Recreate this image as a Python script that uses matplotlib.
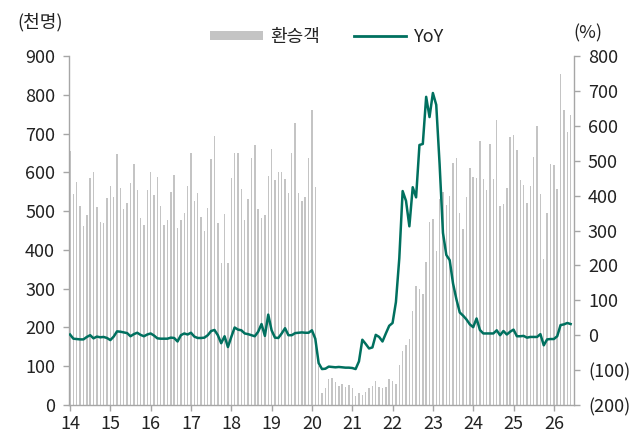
import matplotlib
matplotlib.use("Agg")
import matplotlib.pyplot as plt
from matplotlib.patches import Patch
from matplotlib.lines import Line2D
import numpy as np

plt.rcParams['font.family'] = ['Noto Sans CJK KR', 'DejaVu Sans']

# Monthly transfer passengers (thousand persons), Jan 2014 - Jun 2026
pax_2014 = [655, 543, 574, 513, 462, 490, 585, 601, 511, 472, 469, 533]
pax_2015 = [565, 536, 646, 559, 506, 520, 572, 621, 554, 483, 464, 554]
pax_2016 = [602, 542, 588, 514, 464, 477, 549, 593, 457, 477, 494, 565]
pax_2017 = [650, 527, 546, 486, 449, 509, 634, 693, 469, 366, 493, 366]
pax_2018 = [585, 651, 651, 558, 477, 531, 638, 670, 506, 481, 491, 590]
pax_2019 = [660, 581, 602, 601, 582, 546, 649, 726, 546, 526, 537, 638]
pax_2020 = [760, 563, 100, 32, 43, 68, 69, 59, 49, 53, 47, 51]
pax_2021 = [45, 23, 30, 27, 34, 43, 49, 62, 47, 45, 47, 66]
pax_2022 = [61, 53, 102, 139, 156, 171, 242, 306, 299, 286, 369, 471]
pax_2023 = [480, 396, 530, 550, 516, 539, 625, 638, 496, 455, 536, 610]
pax_2024 = [587, 585, 681, 582, 555, 673, 582, 734, 512, 519, 559, 692]
pax_2025 = [696, 657, 580, 567, 520, 565, 640, 719, 544, 376, 496, 621]
pax_2026 = [619, 557, 854, 760, 704, 747]

# YoY growth (%)
yoy_2014 = [2, -10, -11, -12, -12, -5, 0, -9, -4, -6, -5, -8]
yoy_2015 = [-14, -4, 11, 10, 8, 6, -3, 3, 7, 1, -3, 2]
yoy_2016 = [5, -1, -9, -10, -10, -10, -7, -8, -18, 0, 5, 2]
yoy_2017 = [7, -4, -8, -8, -7, 0, 12, 15, 0, -23, -3, -34]
yoy_2018 = [-5, 22, 16, 14, 5, 3, 0, -3, 10, 32, -2, 59]
yoy_2019 = [14, -7, -8, 5, 20, 0, 0, 6, 7, 8, 7, 7]
yoy_2020 = [14, -10, -80, -97, -96, -90, -91, -92, -91, -92, -93, -93]
yoy_2021 = [-94, -97, -75, -13, -25, -38, -35, 1, -5, -18, 5, 27]
yoy_2022 = [35, 95, 220, 413, 385, 312, 424, 395, 545, 548, 683, 625]
yoy_2023 = [694, 660, 490, 293, 230, 215, 148, 103, 65, 56, 45, 31]
yoy_2024 = [23, 48, 15, 5, 5, 5, 5, 14, 0, 12, 2, 10]
yoy_2025 = [16, -3, -3, -2, -7, -5, -5, -5, 3, -29, -12, -11]
yoy_2026 = [-11, -3, 29, 31, 35, 32]

year_labels = ['14', '15', '16', '17', '18', '19', '20', '21', '22', '23', '24', '25', '26']
left_ticks = [0, 100, 200, 300, 400, 500, 600, 700, 800, 900]
right_ticks = [-200, -100, 0, 100, 200, 300, 400, 500, 600, 700, 800]

pax = (pax_2014 + pax_2015 + pax_2016 + pax_2017 + pax_2018 + pax_2019 + pax_2020
       + pax_2021 + pax_2022 + pax_2023 + pax_2024 + pax_2025 + pax_2026)
yoy = (yoy_2014 + yoy_2015 + yoy_2016 + yoy_2017 + yoy_2018 + yoy_2019 + yoy_2020
       + yoy_2021 + yoy_2022 + yoy_2023 + yoy_2024 + yoy_2025 + yoy_2026)
x = np.arange(len(pax))

BAR_C = '#c4c4c4'
LINE_C = '#00705f'
SPINE_C = '#a6a6a6'
TXT_C = '#222222'
FS = 13

fig = plt.figure(figsize=(6.33, 4.33), dpi=100)
ax = fig.add_axes([69/633, 1 - 405/433, (574-69)/633, (405-56)/433])
ax.bar(x, pax, width=0.42, color=BAR_C, zorder=1)
ax.set_ylim(0, 900)
ax.set_xlim(-0.3, 150)
ax.set_yticks(left_ticks)
ax.set_xticks(np.arange(len(year_labels)) * 12)
ax.set_xticklabels(year_labels)

ax2 = ax.twinx()
ax2.plot(x, yoy, color=LINE_C, lw=1.8, zorder=3)
ax2.set_ylim(-200, 800)
ax2.set_yticks(right_ticks)
ax2.set_yticklabels([f'({-v})' if v < 0 else f'{v}' for v in right_ticks])
ax2.set_xlim(-0.3, 150)

for a in (ax, ax2):
    a.spines['top'].set_visible(False)
    for s in ('left', 'right', 'bottom'):
        a.spines[s].set_color(SPINE_C)
        a.spines[s].set_linewidth(1.0)
    a.tick_params(colors=SPINE_C, labelcolor=TXT_C, labelsize=FS, length=4, width=1.0)
ax.spines['right'].set_visible(False)
ax2.spines['left'].set_visible(False)
ax2.spines['bottom'].set_visible(False)
ax.tick_params(axis='x', pad=3)
ax.tick_params(axis='y', pad=6)
ax2.tick_params(axis='y', pad=6)

fig.text(40/633, 1 - 22/433, '(천명)', ha='center', va='center', fontsize=FS, color=TXT_C)
fig.text(588/633, 1 - 33/433, '(%)', ha='center', va='center', fontsize=FS, color=TXT_C)

handles = [Patch(facecolor=BAR_C, edgecolor='none'),
           Line2D([0], [0], color=LINE_C, lw=2)]
leg = fig.legend(handles, ['환승객', 'YoY'], loc='center', ncol=2, frameon=False,
                 bbox_to_anchor=(327/633, 1 - 37/433), fontsize=FS, handlelength=2.9,
                 handleheight=0.45, columnspacing=1.9, handletextpad=0.4)
for t in leg.get_texts():
    t.set_color(TXT_C)

fig.savefig('out.png', dpi=100)
